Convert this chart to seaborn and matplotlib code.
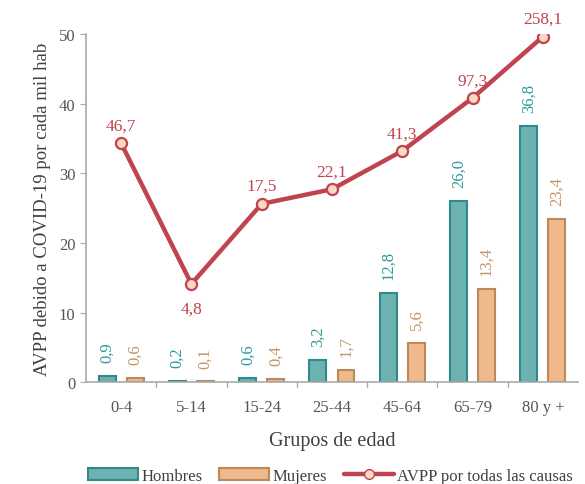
import numpy as np
import pandas as pd
import matplotlib.pyplot as plt
import seaborn as sns
from matplotlib.patches import Patch
from matplotlib.lines import Line2D

grupos = ['0-4', '5-14', '15-24', '25-44', '45-64', '65-79', '80 y +']
hombres = [0.9, 0.2, 0.6, 3.2, 12.8, 26.0, 36.8]
mujeres = [0.6, 0.1, 0.4, 1.7, 5.6, 13.4, 23.4]
# labels of the all-causes line and its height as drawn on the left axis
avpp_labels = [46.7, 4.8, 17.5, 22.1, 41.3, 97.3, 258.1]
avpp_pos = [34.3, 14.1, 25.6, 27.7, 33.2, 40.8, 49.6]

teal, teal_edge, teal_txt = '#6cb2b1', '#2f8a89', '#2f9a9a'
tan, tan_edge, tan_txt = '#efb98c', '#bb8a5c', '#c49360'
red = '#c0444f'

sns.set_style('white')
plt.rcParams['font.family'] = ['Liberation Serif', 'DejaVu Serif']

df = pd.DataFrame({'grupo': grupos * 2,
                   'valor': hombres + mujeres,
                   'sexo': ['Hombres'] * 7 + ['Mujeres'] * 7})

fig = plt.figure(figsize=(5.85, 4.85), dpi=100)
ax = fig.add_axes([0.147, 0.21, 0.841, 0.718])

sns.barplot(data=df, x='grupo', y='valor', hue='sexo', order=grupos,
            palette=[teal, tan], saturation=1, gap=0.4, width=0.8,
            legend=False, ax=ax, linewidth=1.5)
for bar, ec in zip(ax.patches, [teal_edge] * 7 + [tan_edge] * 7):
    bar.set_edgecolor(ec)

xs = np.arange(len(grupos))
sns.lineplot(x=xs, y=avpp_pos, color=red, linewidth=3.2, marker='o',
             markersize=8, markerfacecolor='#f7d9c4', markeredgecolor=red,
             markeredgewidth=1.6, ax=ax)

for i in range(len(grupos)):
    ax.annotate(f'{hombres[i]:.1f}'.replace('.', ','), (i - 0.2, hombres[i]),
                xytext=(0, 10), textcoords='offset points', rotation=90,
                ha='center', va='bottom', color=teal_txt, fontsize=12)
    ax.annotate(f'{mujeres[i]:.1f}'.replace('.', ','), (i + 0.2, mujeres[i]),
                xytext=(0, 10), textcoords='offset points', rotation=90,
                ha='center', va='bottom', color=tan_txt, fontsize=12)
    dy = -12 if i == 1 else 7
    ax.annotate(f'{avpp_labels[i]:.1f}'.replace('.', ','), (i, avpp_pos[i]),
                xytext=(0, dy), textcoords='offset points', ha='center',
                va='top' if i == 1 else 'bottom', color=red, fontsize=12.5)

ax.set_ylim(0, 50)
ax.set_xlim(-0.5, 6.5)
ax.set_yticks(range(0, 51, 10))
ax.set_xlabel('Grupos de edad', fontsize=14.5, color='#404040', labelpad=12)
ax.set_ylabel('AVPP debido a COVID-19 por cada mil hab', fontsize=13.5,
              color='#404040', labelpad=6)
ax.tick_params(axis='both', labelsize=12, colors='#555555')
ax.tick_params(axis='x', length=0, pad=12)
ax.tick_params(axis='y', length=4, left=True, color='#aaaaaa')
for b in np.arange(0.5, 6.5, 1):
    ax.plot([b, b], [0, -0.7], color='#aaaaaa', lw=1, clip_on=False)
for s in ['top', 'right']:
    ax.spines[s].set_visible(False)
for s in ['left', 'bottom']:
    ax.spines[s].set_color('#aaaaaa')
    ax.spines[s].set_linewidth(1.2)

handles = [Patch(facecolor=teal, edgecolor=teal_edge, linewidth=1.5),
           Patch(facecolor=tan, edgecolor=tan_edge, linewidth=1.5),
           Line2D([], [], color=red, lw=3.2, marker='o', markersize=7,
                  markerfacecolor='#f7d9c4', markeredgecolor=red)]
fig.legend(handles, ['Hombres', 'Mujeres', 'AVPP por todas las causas'],
           loc='lower center', bbox_to_anchor=(0.565, -0.03), ncol=3,
           frameon=False, fontsize=12, handlelength=3.0, handleheight=0.7,
           handletextpad=0.2, columnspacing=1.0, labelcolor='#404040')

fig.savefig('out.png', dpi=100)
